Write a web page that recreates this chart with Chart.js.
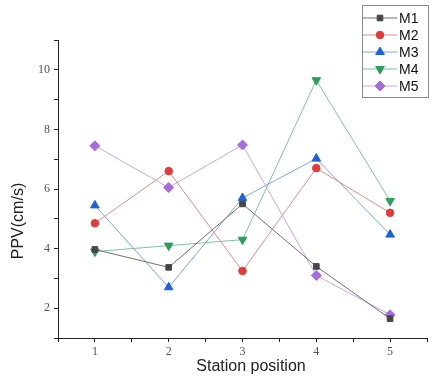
<!DOCTYPE html>
<html>
<head>
<meta charset="utf-8">
<script src="https://cdn.jsdelivr.net/npm/chart.js@4/dist/chart.umd.min.js"></script>
<style>
  html, body { margin: 0; padding: 0; background: #fff; }
  #wrap { width: 436px; height: 377px; }
</style>
</head>
<body>
<div id="wrap"><canvas id="ppvChart" width="436" height="377"></canvas></div>
<script>
const stations = [1, 2, 3, 4, 5];
const seriesNames = ["M1", "M2", "M3", "M4", "M5"];
const m1 = [3.97, 3.37, 5.5, 3.4, 1.65];
const m2 = [4.85, 6.6, 3.25, 6.7, 5.2];
const m3 = [5.45, 2.7, 5.7, 7.02, 4.47];
const m4 = [3.9, 4.1, 4.3, 9.65, 5.6];
const m5 = [7.45, 6.05, 7.48, 3.1, 1.78];
const yTickLabels = [2, 4, 6, 8, 10];
const xTickLabels = [1, 2, 3, 4, 5];
const xTitle = "Station position";
const yTitle = "PPV(cm/s)";

const markerColors = ["#474747", "#e23b3b", "#1f62d4", "#2b9e5c", "#a66bdc"];
const lineColors = ["#707070", "#e08a8a", "#7fa6d8", "#7fc3a0", "#c9a6e6"];
const styles = ["rect", "circle", "triangle", "triangle", "rectRot"];
const rotations = [0, 0, 0, 180, 0];
const radii = [4, 3.8, 5, 5, 5];

const allSeries = [m1, m2, m3, m4, m5];

const datasets = allSeries.map((vals, i) => ({
    label: seriesNames[i],
    data: stations.map((s, j) => ({ x: s, y: vals[j] })),
    borderColor: lineColors[i],
    borderWidth: 1,
    backgroundColor: markerColors[i],
    pointBackgroundColor: markerColors[i],
    pointBorderColor: markerColors[i],
    pointBorderWidth: 1,
    pointStyle: styles[i],
    pointRotation: rotations[i],
    pointRadius: radii[i],
    tension: 0
}));

// axis titles sit a bit off-centre in the original, so draw them by hand
const axisTitles = {
    id: "axisTitles",
    afterDraw(chart) {
        const ctx = chart.ctx;
        ctx.save();
        ctx.fillStyle = "#222";
        ctx.font = "16px 'Liberation Sans', Arial, sans-serif";
        ctx.textAlign = "center";
        ctx.textBaseline = "middle";
        ctx.fillText(xTitle, 251, 367);
        ctx.translate(19, 221);
        ctx.rotate(-Math.PI / 2);
        ctx.fillText(yTitle, 0, 0);
        ctx.restore();
    }
};

// legend drawn as a framed box with line + marker, like the original
const boxLegend = {
    id: "boxLegend",
    afterDraw(chart) {
        const ctx = chart.ctx;
        const x0 = 362, y0 = 5, w = 66, h = 92;
        ctx.save();
        ctx.fillStyle = "#fff";
        ctx.fillRect(x0, y0, w, h);
        ctx.strokeStyle = "#8a8a8a";
        ctx.lineWidth = 1;
        ctx.strokeRect(x0 + 0.5, y0 + 0.5, w, h);
        chart.data.datasets.forEach((ds, i) => {
            const y = y0 + 13 + i * 17;
            ctx.strokeStyle = ds.borderColor;
            ctx.lineWidth = 1;
            ctx.beginPath();
            ctx.moveTo(x0 + 1, y);
            ctx.lineTo(x0 + 35, y);
            ctx.stroke();
            ctx.fillStyle = ds.pointBackgroundColor;
            ctx.strokeStyle = ds.pointBorderColor;
            Chart.helpers.drawPoint(ctx, {
                pointStyle: ds.pointStyle,
                rotation: ds.pointRotation,
                radius: ds.pointRadius,
                borderWidth: 1
            }, x0 + 18, y);
            ctx.fillStyle = "#111";
            ctx.font = "14px 'Liberation Sans', Arial, sans-serif";
            ctx.textBaseline = "middle";
            ctx.fillText(ds.label, x0 + 37, y + 1);
        });
        ctx.restore();
    }
};

const ctx = document.getElementById("ppvChart").getContext("2d");
const ppvChart = new Chart(ctx, {
    type: "line",
    data: { datasets: datasets },
    options: {
        responsive: false,
        animation: false,
        layout: { padding: { top: 40, right: 9, left: 0, bottom: 0 } },
        plugins: {
            legend: { display: false },
            tooltip: { enabled: false }
        },
        scales: {
            x: {
                type: "linear",
                min: 0.5,
                max: 5.5,
                afterFit: (scale) => { scale.height = 39; },
                border: { display: true, color: "#222", width: 1 },
                grid: { drawOnChartArea: false, tickLength: 4, color: "#222" },
                ticks: {
                    stepSize: 0.5,
                    autoSkip: false,
                    maxRotation: 0,
                    padding: 3,
                    color: "#555",
                    font: { family: "'Liberation Serif', 'DejaVu Serif', serif", size: 12 },
                    callback: (v) => xTickLabels.includes(v) ? String(v) : ""
                }
            },
            y: {
                type: "linear",
                min: 1,
                max: 11,
                afterFit: (scale) => { scale.width = 58; },
                border: { display: true, color: "#222", width: 1 },
                grid: { drawOnChartArea: false, tickLength: 4, color: "#222" },
                ticks: {
                    stepSize: 1,
                    autoSkip: false,
                    padding: 4,
                    color: "#555",
                    font: { family: "'Liberation Serif', 'DejaVu Serif', serif", size: 12 },
                    callback: (v) => yTickLabels.includes(v) ? String(v) : ""
                }
            }
        }
    },
    plugins: [axisTitles, boxLegend]
});
</script>
</body>
</html>
